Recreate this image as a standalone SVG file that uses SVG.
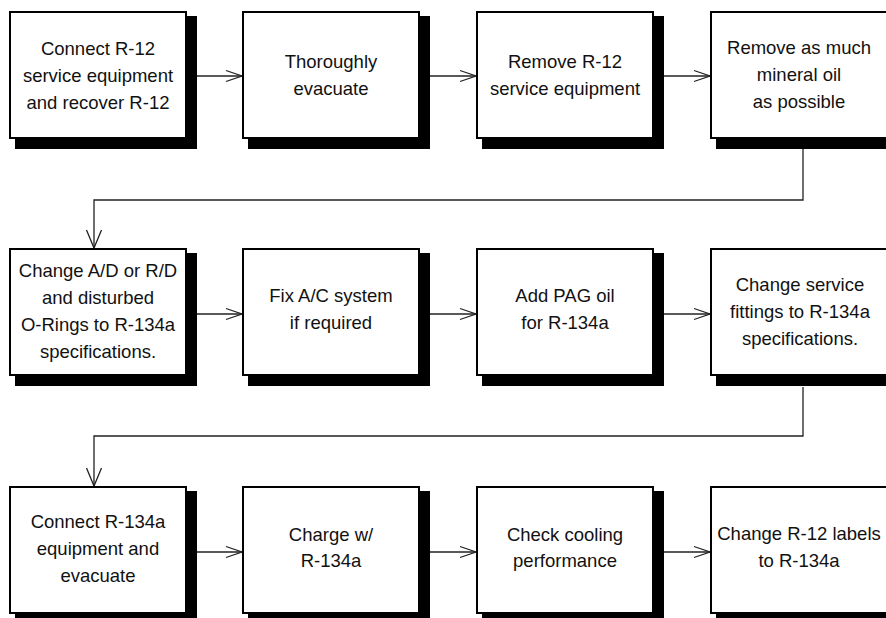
<svg xmlns="http://www.w3.org/2000/svg" width="886" height="618" viewBox="0 0 886 618">
  <style>
    .shadow { fill: #000; }
    .box { fill: #fff; stroke: #000; stroke-width: 2; }
    .lbl { font-family: "Liberation Sans", Arial, sans-serif; font-size: 18.5px; fill: #111; text-anchor: middle; }
    .conn { fill: none; stroke: #222; stroke-width: 1.3; }
  </style>
  <defs>
    <marker id="ah" markerUnits="userSpaceOnUse" markerWidth="20" markerHeight="14" refX="16" refY="6" orient="auto" overflow="visible">
      <path d="M0,0.5 L16,6 L0,11.5" fill="none" stroke="#222" stroke-width="1.3"/>
    </marker>
    <marker id="ahv" markerUnits="userSpaceOnUse" markerWidth="20" markerHeight="16" refX="18" refY="7.5" orient="auto" overflow="visible">
      <path d="M0,0 L18,7.5 L0,15" fill="none" stroke="#222" stroke-width="1.3"/>
    </marker>
  </defs>
  <rect width="886" height="618" fill="#fff"/>

  <g id="connectors">
    <line class="conn" x1="197" y1="76" x2="242" y2="76" marker-end="url(#ah)"/>
    <line class="conn" x1="430" y1="76" x2="476" y2="76" marker-end="url(#ah)"/>
    <line class="conn" x1="664" y1="76" x2="710" y2="76" marker-end="url(#ah)"/>
    <polyline class="conn" points="803,149 803,200 94,200 94,248" marker-end="url(#ahv)"/>
    <line class="conn" x1="197" y1="314" x2="242" y2="314" marker-end="url(#ah)"/>
    <line class="conn" x1="430" y1="314" x2="476" y2="314" marker-end="url(#ah)"/>
    <line class="conn" x1="664" y1="314" x2="710" y2="314" marker-end="url(#ah)"/>
    <polyline class="conn" points="803,387 803,436 94,436 94,486" marker-end="url(#ahv)"/>
    <line class="conn" x1="197" y1="552" x2="242" y2="552" marker-end="url(#ah)"/>
    <line class="conn" x1="430" y1="552" x2="476" y2="552" marker-end="url(#ah)"/>
    <line class="conn" x1="664" y1="552" x2="710" y2="552" marker-end="url(#ah)"/>
  </g>

  <g id="n1">
    <rect class="shadow" x="15" y="16" width="182" height="133"/>
    <rect class="box" x="10" y="12" width="176" height="126"/>
    <text class="lbl" x="98" y="55">Connect R-12</text>
    <text class="lbl" x="98" y="82">service equipment</text>
    <text class="lbl" x="98" y="109">and recover R-12</text>
  </g>
  <g id="n2">
    <rect class="shadow" x="248" y="16" width="182" height="133"/>
    <rect class="box" x="243" y="12" width="176" height="126"/>
    <text class="lbl" x="331" y="68">Thoroughly</text>
    <text class="lbl" x="331" y="95">evacuate</text>
  </g>
  <g id="n3">
    <rect class="shadow" x="482" y="16" width="182" height="133"/>
    <rect class="box" x="477" y="12" width="176" height="126"/>
    <text class="lbl" x="565" y="68">Remove R-12</text>
    <text class="lbl" x="565" y="95">service equipment</text>
  </g>
  <g id="n4">
    <rect class="shadow" x="716" y="16" width="182" height="133"/>
    <rect class="box" x="711" y="12" width="176" height="126"/>
    <text class="lbl" x="799" y="54">Remove as much</text>
    <text class="lbl" x="799" y="81">mineral oil</text>
    <text class="lbl" x="799" y="108">as possible</text>
  </g>

  <g id="n5">
    <rect class="shadow" x="15" y="253" width="182" height="133"/>
    <rect class="box" x="10" y="249" width="176" height="126"/>
    <text class="lbl" x="98" y="277">Change A/D or R/D</text>
    <text class="lbl" x="98" y="304">and disturbed</text>
    <text class="lbl" x="98" y="331">O-Rings to R-134a</text>
    <text class="lbl" x="98" y="358">specifications.</text>
  </g>
  <g id="n6">
    <rect class="shadow" x="248" y="253" width="182" height="133"/>
    <rect class="box" x="243" y="249" width="176" height="126"/>
    <text class="lbl" x="331" y="302">Fix A/C system</text>
    <text class="lbl" x="331" y="329">if required</text>
  </g>
  <g id="n7">
    <rect class="shadow" x="482" y="253" width="182" height="133"/>
    <rect class="box" x="477" y="249" width="176" height="126"/>
    <text class="lbl" x="565" y="302">Add PAG oil</text>
    <text class="lbl" x="565" y="329">for R-134a</text>
  </g>
  <g id="n8">
    <rect class="shadow" x="716" y="253" width="182" height="133"/>
    <rect class="box" x="711" y="249" width="176" height="126"/>
    <text class="lbl" x="800" y="291">Change service</text>
    <text class="lbl" x="800" y="318">fittings to R-134a</text>
    <text class="lbl" x="800" y="345">specifications.</text>
  </g>

  <g id="n9">
    <rect class="shadow" x="15" y="491" width="182" height="133"/>
    <rect class="box" x="10" y="487" width="176" height="126"/>
    <text class="lbl" x="98" y="528">Connect R-134a</text>
    <text class="lbl" x="98" y="555">equipment and</text>
    <text class="lbl" x="98" y="582">evacuate</text>
  </g>
  <g id="n10">
    <rect class="shadow" x="248" y="491" width="182" height="133"/>
    <rect class="box" x="243" y="487" width="176" height="126"/>
    <text class="lbl" x="331" y="541">Charge w/</text>
    <text class="lbl" x="331" y="567">R-134a</text>
  </g>
  <g id="n11">
    <rect class="shadow" x="482" y="491" width="182" height="133"/>
    <rect class="box" x="477" y="487" width="176" height="126"/>
    <text class="lbl" x="565" y="541">Check cooling</text>
    <text class="lbl" x="565" y="567">performance</text>
  </g>
  <g id="n12">
    <rect class="shadow" x="716" y="491" width="182" height="133"/>
    <rect class="box" x="711" y="487" width="176" height="126"/>
    <text class="lbl" x="799" y="540">Change R-12 labels</text>
    <text class="lbl" x="799" y="567">to R-134a</text>
  </g>
</svg>
